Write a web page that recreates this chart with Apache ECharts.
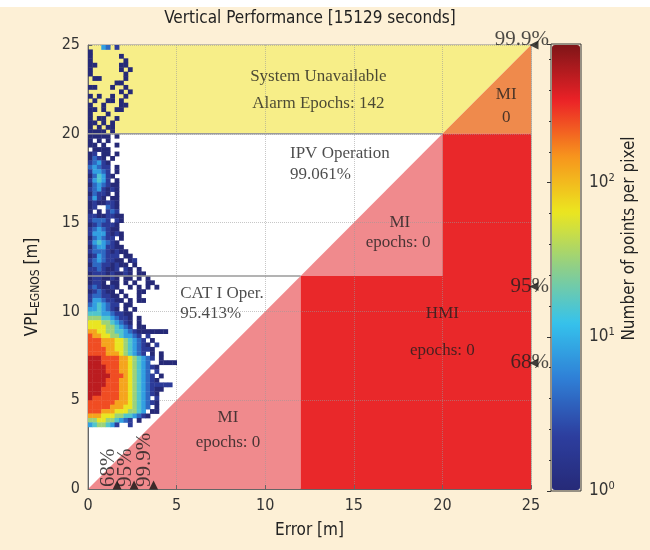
<!DOCTYPE html>
<html>
<head>
<meta charset="utf-8">
<script src="https://cdn.jsdelivr.net/npm/echarts@6/dist/echarts.min.js"></script>
<style>
html, body { margin: 0; padding: 0; background: #fff; }
#chart { width: 650px; height: 543px; margin-top: 7px; background: #fdf0d6; }
</style>
</head>
<body>
<div id="chart"></div>
<script>
const sansFont = "'Liberation Sans Narrow','DejaVu Sans Condensed','Roboto Condensed','Liberation Sans',sans-serif";
const serifFont = "'Liberation Serif','DejaVu Serif',serif";

const axisMax = 25;
const cell = 0.25;          // heat bin size [m]
const levelStep = 0.3;      // one digit = 0.3 decade of points per pixel
const cbMax = 2.9;          // log10 of the top of the colour bar

// heat rows from VPL 25 m downwards, one char per 0.25 m error bin ('.' = empty)
const heatRows = [
    '...32.1', '0', '0......0', '0.......0', '00.....00',
    '0......0.0', '0.......0', '.00.....0', '......00', '00...0..0',
    '.......0.0', '0.0..0..0', '.0..00.0', '0..0...00', '00.0..00',
    '0...0', '0.00..0', '00.0.0', '0.0.00', '0000.0',
    '00000.0', '0.0.0', '00.0..0', '.0000', '01.00.0',
    '0210.0', '12310', '23211.0', '13321.0', '024310',
    '13431.0', '0232100', '1231010', '02110.0', '1310.00',
    '0100110', '01..210', '0.0.121', '11001100', '12221.10',
    '0121110', '1232100', '13331010', '023211.0', '1343210',
    '02331100', '122210100', '0132111.00', '12321100.01', '022110100.0',
    '1121001.10.0', '0111010010.00', '0110010.00.0.0', '0110.00.0.0..00', '1210010..0.0.0.0',
    '012100.0...00', '1221100.0..0', '13321100.0.00', '2343211.00', '3343210.0.0',
    '4443321100', '5554432110.0', '6665543210.0', '6666554321.00', '776655443210000000',
    '877665543321.1', '8887776654321.0', '88877766543210.1', '888877665432110', '8888777654321.0.0',
    '999888877654321.0', '99988887765432..0000', '9999888776543210', '99998887765432.1', '999998887654321.0',
    '9999888776543210', '9999888776543211111', '99988887765432100', '9998888776543210', '98888887765432.1',
    '8888887776543210', '88888777665432.0', '8887776665543.00', '77766655443210', '5566554321.0',
    '3455431..1'
];

// Stanford plot regions, vertices in [error, VPL]
const zonePolys = [
    [[0, 20], [20, 20], [25, 25], [0, 25]],                          // system unavailable
    [[20, 20], [25, 20], [25, 25]],                                  // MI (unavailable)
    [[0, 0], [12, 0], [12, 12]],                                     // MI low
    [[12, 12], [20, 12], [20, 20]],                                  // MI mid
    [[12, 0], [25, 0], [25, 20], [20, 20], [20, 12], [12, 12]]       // HMI
];
const zoneColors = ['#f7ee88', '#ef8a4c', '#f08a8d', '#f08a8d', '#e9282a'];
const borderLines = [
    [[0, 12], [12, 12]],
    [[0, 20], [20, 20]]
];

const centerText = [
    [13.0, 23.2, 'System Unavailable'],
    [13.0, 21.7, 'Alarm Epochs: 142'],
    [23.6, 22.2, 'MI'],
    [23.6, 20.9, '0'],
    [17.6, 15.0, 'MI'],
    [17.5, 13.9, 'epochs: 0'],
    [20.0, 9.9, 'HMI'],
    [20.0, 7.8, 'epochs: 0'],
    [7.9, 4.0, 'MI'],
    [7.9, 2.6, 'epochs: 0']
];
const leftText = [
    [11.4, 18.9, 'IPV Operation'],
    [11.4, 17.7, '99.061%'],
    [5.2, 11.0, 'CAT I Oper.'],
    [5.2, 9.9, '95.413%']
];

const pctLabels = ['68%', '95%', '99.9%'];
const errPct = [1.64, 2.6, 3.7];
const vplPct = [7.1, 11.4, 25];

const jet = ['#262a78', '#2d3fa0', '#2f7fd6', '#35c2ec', '#8fcf88', '#ece61f', '#f7941d', '#ec2227', '#7f1518'];

const heatData = [];
heatRows.forEach(function(row, k) {
    for (let c = 0; c < row.length; c++) {
        if (row[c] === '.') continue;
        heatData.push([c * cell, axisMax - (k + 1) * cell, Number(row[c]) * levelStep]);
    }
});

const chart = echarts.init(document.getElementById('chart'));

const tickStyle = { color: '#333', fontSize: 16, fontFamily: sansFont };
const gridLine = { show: true, lineStyle: { color: '#999', type: 'dotted', opacity: 0.55 } };
const textColor = '#1e1e1e';

const option = {
    animation: false,
    title: {
        text: 'Vertical Performance [15129 seconds]',
        left: 310,
        textAlign: 'center',
        top: 3,
        padding: 0,
        textStyle: { color: '#222', fontSize: 17, fontWeight: 'normal', fontFamily: sansFont }
    },
    grid: [
        { left: 88, top: 38, width: 443, height: 444, show: true, backgroundColor: '#fff', borderColor: '#888', borderWidth: 1 },
        { left: 551, top: 37, width: 30, height: 447, show: true, backgroundColor: 'transparent', borderColor: '#333', borderWidth: 1 }
    ],
    xAxis: [
        {
            type: 'value', gridIndex: 0, min: 0, max: axisMax, interval: 5, z: 2,
            name: 'Error [m]', nameLocation: 'middle', nameGap: 33,
            nameTextStyle: { color: '#222', fontSize: 17, fontFamily: sansFont },
            axisLine: { lineStyle: { color: '#666' } },
            axisTick: { inside: true, length: 4, lineStyle: { color: '#666' } },
            axisLabel: Object.assign({ margin: 9 }, tickStyle),
            splitLine: gridLine
        },
        { type: 'value', gridIndex: 1, min: 0, max: 1, show: false }
    ],
    yAxis: [
        {
            type: 'value', gridIndex: 0, min: 0, max: axisMax, interval: 5, z: 2,
            name: 'VPL{sub|EGNOS} [m]', nameLocation: 'middle', nameGap: 46, nameRotate: 90,
            nameTextStyle: {
                color: '#222', fontSize: 17, fontFamily: sansFont, padding: [0, 40, 0, 0],
                rich: { sub: { fontSize: 12, fontFamily: sansFont, color: '#222', padding: [7, 0, 0, 0] } }
            },
            axisLine: { lineStyle: { color: '#666' } },
            axisTick: { inside: true, length: 4, lineStyle: { color: '#666' } },
            axisLabel: Object.assign({ margin: 8 }, tickStyle),
            splitLine: gridLine
        },
        {
            type: 'value', gridIndex: 1, position: 'right', min: 0, max: cbMax, interval: 1,
            name: 'Number of points per pixel', nameLocation: 'middle', nameGap: 40, nameRotate: 90,
            nameTextStyle: { color: '#222', fontSize: 17, fontFamily: sansFont, padding: [0, 0, 0, 58] },
            axisLine: { show: false },
            axisTick: { inside: true, length: 4, lineStyle: { color: '#333' } },
            minorTick: { show: true, splitNumber: 5, length: 2, lineStyle: { color: '#333' } },
            axisLabel: {
                margin: 8, showMaxLabel: false,
                formatter: function(v) { return '{b|10}{s|' + v + '}'; },
                rich: {
                    b: { color: '#333', fontSize: 17, fontFamily: sansFont },
                    s: { color: '#333', fontSize: 11, fontFamily: sansFont, padding: [0, 0, 9, 0] }
                }
            },
            splitLine: { show: false }
        }
    ],
    visualMap: {
        type: 'continuous', min: 0, max: cbMax, dimension: 2, seriesIndex: 1,
        left: 552, top: 38, itemWidth: 28, itemHeight: 445, padding: 0,
        calculable: false, text: null, show: true,
        inRange: { color: jet }
    },
    series: [
        {
            type: 'custom', name: 'zones', xAxisIndex: 0, yAxisIndex: 0, z: 1, silent: true,
            data: zonePolys.map(function(p) { return p[0]; }),
            renderItem: function(params, api) {
                const pts = zonePolys[params.dataIndex].map(function(p) { return api.coord(p); });
                return { type: 'polygon', shape: { points: pts }, style: { fill: zoneColors[params.dataIndex], stroke: null } };
            }
        },
        {
            type: 'custom', name: 'heat', xAxisIndex: 0, yAxisIndex: 0, z: 3, silent: true,
            encode: { x: 0, y: 1 },
            data: heatData,
            renderItem: function(params, api) {
                const p = api.coord([api.value(0), api.value(1) + cell]);
                const s = api.size([cell, cell]);
                return { type: 'rect', shape: { x: p[0], y: p[1], width: s[0] + 0.4, height: s[1] + 0.4 }, style: { fill: api.visual('color') } };
            }
        },
        {
            type: 'custom', name: 'borders', xAxisIndex: 0, yAxisIndex: 0, z: 3, silent: true,
            data: borderLines.map(function(l) { return l[0]; }),
            renderItem: function(params, api) {
                const pts = borderLines[params.dataIndex].map(function(p) { return api.coord(p); });
                return { type: 'polyline', shape: { points: pts }, style: { stroke: '#9a9a9a', lineWidth: 1.5, fill: null } };
            }
        },
        {
            type: 'scatter', name: 'centerText', z: 5, silent: true, symbolSize: 0,
            data: centerText.map(function(t) { return { value: [t[0], t[1]], name: t[2] }; }),
            label: { show: true, position: 'inside', formatter: '{b}', color: textColor, fontSize: 17, fontFamily: serifFont }
        },
        {
            type: 'scatter', name: 'leftText', z: 5, silent: true, symbolSize: 0,
            data: leftText.map(function(t) { return { value: [t[0], t[1]], name: t[2] }; }),
            label: { show: true, position: 'inside', align: 'left', formatter: '{b}', color: textColor, fontSize: 17, fontFamily: serifFont }
        },
        {
            type: 'scatter', name: 'errPct', z: 6, silent: true,
            symbol: 'triangle', symbolSize: 9, symbolOffset: [0, -4],
            itemStyle: { color: '#111' },
            data: errPct.map(function(x, i) { return { value: [x, 0], name: pctLabels[i] }; }),
            label: {
                show: true, position: 'inside', rotate: 90, align: 'left', verticalAlign: 'middle',
                offset: [-2, -9], formatter: '{b}', color: textColor, fontSize: 21, fontFamily: serifFont
            }
        },
        {
            type: 'scatter', name: 'vplPct', z: 6, silent: true, clip: false,
            symbol: 'triangle', symbolSize: 9, symbolRotate: 90, symbolOffset: [3, 0],
            itemStyle: { color: '#111' },
            data: vplPct.map(function(y, i) {
                return { value: [axisMax, y], name: pctLabels[i], label: { offset: [15, i === 2 ? -6 : 0] } };
            }),
            label: {
                show: true, position: 'inside', align: 'right', verticalAlign: 'middle',
                formatter: '{b}', color: textColor, fontSize: 21, fontFamily: serifFont
            }
        }
    ]
};

chart.setOption(option);
</script>
</body>
</html>
